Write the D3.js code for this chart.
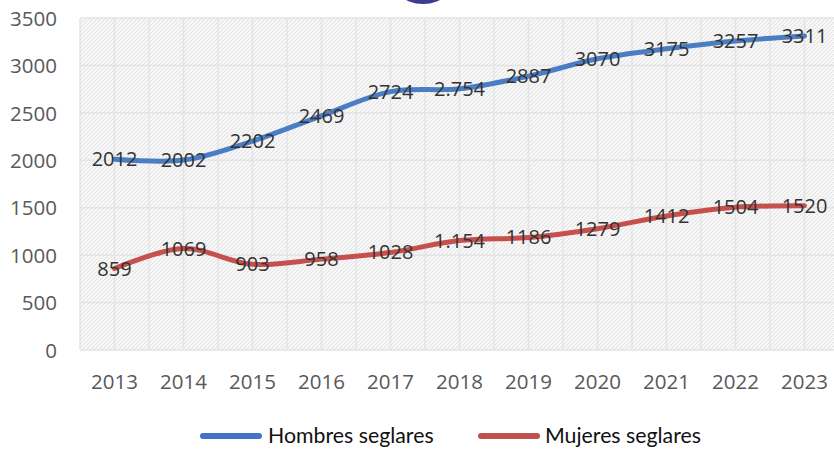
<!DOCTYPE html>
<html><head><meta charset="utf-8">
<script src="https://cdn.jsdelivr.net/npm/d3@7"></script>
<style>body{margin:0;background:#fff;}svg{display:block;}</style>
</head><body>
<svg id="c" width="834" height="450"></svg>
<script>
const years = ["2013","2014","2015","2016","2017","2018","2019","2020","2021","2022","2023"];
const hombres = [2012,2002,2202,2469,2724,2754,2887,3070,3175,3257,3311];
const mujeres = [859,1069,903,958,1028,1154,1186,1279,1412,1504,1520];
const hombresLabels = ["2012","2002","2202","2469","2724","2.754","2887","3070","3175","3257","3311"];
const mujeresLabels = ["859","1069","903","958","1028","1.154","1186","1279","1412","1504","1520"];
const yTicks = [0,500,1000,1500,2000,2500,3000,3500];
const seriesNames = ["Hombres seglares","Mujeres seglares"];

const svg = d3.select("#c");
const L = 80, R = 839, T = 18, B = 350;
const x = d3.scaleBand().domain(years).range([L, R]);
const y = d3.scaleLinear().domain([0, 3500]).range([B, T]);
const cx = d => x(d) + x.bandwidth()/2;
const FONT = "'Open Sans', sans-serif";

// decorative ellipse at top
svg.append("ellipse").attr("cx", 423).attr("cy", -30).attr("rx", 36).attr("ry", 34).attr("fill", "#3b3d8e");

// hatch pattern
const defs = svg.append("defs");
const pat = defs.append("pattern").attr("id","hatch").attr("patternUnits","userSpaceOnUse")
  .attr("width",4).attr("height",4);
pat.append("rect").attr("width",4).attr("height",4).attr("fill","#f7f7f7");
pat.append("path").attr("d","M-1,1 l2,-2 M0,4 l4,-4 M3,5 l2,-2").attr("stroke","#e2e2e2").attr("stroke-width",1);

svg.append("rect").attr("x",L).attr("y",T).attr("width",R-L).attr("height",B-T).attr("fill","url(#hatch)");

// vertical grid lines: band edges and centers
const g = svg.append("g");
const vlines = [];
years.forEach(yr => { vlines.push(x(yr)); vlines.push(cx(yr)); });
vlines.push(R);
g.selectAll("line.v").data(vlines).join("line")
  .attr("x1", d => d).attr("x2", d => d).attr("y1", T).attr("y2", B)
  .attr("stroke","#e4e4e4").attr("stroke-width",1.5);
g.selectAll("line.h").data(yTicks).join("line")
  .attr("x1", L).attr("x2", R).attr("y1", d => y(d)).attr("y2", d => y(d))
  .attr("stroke","#e4e4e4").attr("stroke-width",1.5);

// y axis labels
const yAxis = d3.axisLeft(y).tickValues(yTicks).tickSize(0).tickPadding(0).tickFormat(d3.format("d"));
const ya = svg.append("g").attr("transform",`translate(57,0)`).call(yAxis);
ya.select(".domain").remove();
ya.selectAll("text").attr("font-family",FONT).attr("font-size","20.5px").attr("fill","#595959").attr("dy","0.35em");

// x axis labels
const xAxis = d3.axisBottom(x).tickSize(0).tickPadding(0);
const xa = svg.append("g").attr("transform",`translate(0,382)`).call(xAxis);
xa.select(".domain").remove();
xa.selectAll("text").attr("font-family",FONT).attr("font-size","20.5px").attr("fill","#595959").attr("dy","0.35em");

const line = d3.line().x((d,i) => cx(years[i])).y(d => y(d)).curve(d3.curveCatmullRom.alpha(0.5));
const series = [
  {vals: hombres, labels: hombresLabels, color: "#4a7dc4"},
  {vals: mujeres, labels: mujeresLabels, color: "#c5504d"}
];
series.forEach(s => {
  svg.append("path").attr("d", line(s.vals)).attr("fill","none")
    .attr("stroke", s.color).attr("stroke-width",5).attr("stroke-linecap","round");
});
series.forEach(s => {
  svg.append("g").selectAll("text").data(s.vals).join("text")
    .attr("x", (d,i) => cx(years[i])).attr("y", d => y(d))
    .attr("text-anchor","middle").attr("dy","0.35em")
    .attr("font-family",FONT).attr("font-size","20px").attr("fill","#333")
    .text((d,i) => s.labels[i]);
});

// legend
const leg = [
  {name: seriesNames[0], color: "#4472c4", x1: 203, x2: 259, tx: 268},
  {name: seriesNames[1], color: "#c0504d", x1: 481, x2: 537, tx: 545}
];
leg.forEach(l => {
  svg.append("line").attr("x1", l.x1).attr("x2", l.x2).attr("y1", 436).attr("y2", 436)
    .attr("stroke", l.color).attr("stroke-width",6).attr("stroke-linecap","round");
  svg.append("text").attr("x", l.tx).attr("y", 436).attr("dy","0.35em")
    .attr("font-family","Lato, sans-serif").attr("font-size","21.3px").attr("fill","#111").text(l.name);
});
</script>
</body></html>
